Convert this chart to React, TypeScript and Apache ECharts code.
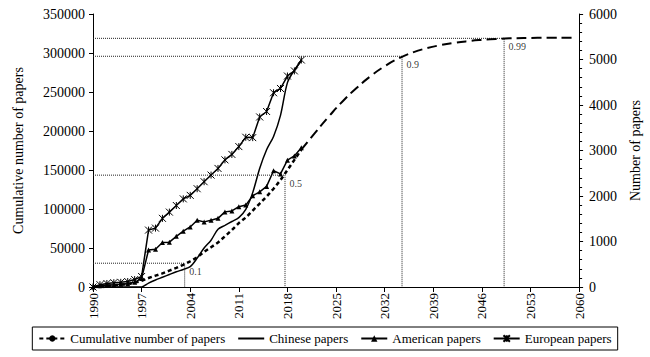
import React, { useEffect, useRef } from "react";
import * as echarts from "echarts";

const BASE_YEAR = 1990;

// Observed years (1990–2020)
const years = [
  1990, 1991, 1992, 1993, 1994, 1995, 1996, 1997, 1998, 1999, 2000, 2001, 2002, 2003, 2004, 2005,
  2006, 2007, 2008, 2009, 2010, 2011, 2012, 2013, 2014, 2015, 2016, 2017, 2018, 2019, 2020,
];

// Cumulative number of papers (left axis)
const cumulativeActual = [
  0, 800, 1500, 2200, 3000, 4000, 5500, 8000, 11500, 14500, 17500, 21000, 24500, 28500, 33000, 38000,
  45000, 51000, 57000, 65000, 73000, 82000, 89000, 98000, 107000, 116000, 126000, 137000, 150000,
  163000, 176000,
];

// Logistic forecast of the cumulative number (left axis)
const forecastYears = [
  2020, 2022, 2024, 2026, 2028, 2030, 2032, 2034, 2036, 2038, 2040, 2042, 2044, 2046, 2048, 2050, 2054, 2059,
];
const forecastValues = [
  176000, 198000, 219000, 238500, 255500, 270500, 283000, 293000, 300500, 306000, 310000, 313000,
  315200, 316800, 318000, 318800, 319400, 319700,
];

// Number of papers (right axis)
const chinesePapers = [
  0, 0, 0, 0, 0, 0, 0, 0, 86, 154, 214, 274, 334, 386, 446, 634, 857, 1029, 1269, 1354, 1440, 1526,
  1706, 2074, 2606, 3017, 3309, 3772, 4492, 4766, 4972,
];
const americanPapers = [
  0, 26, 43, 51, 60, 69, 103, 189, 814, 831, 977, 986, 1114, 1226, 1320, 1468, 1431, 1468, 1509, 1651,
  1671, 1766, 1800, 2006, 2091, 2211, 2554, 2486, 2788, 2880, 3060,
];
const europeanPapers = [
  0, 51, 77, 94, 103, 120, 163, 231, 1251, 1294, 1509, 1646, 1791, 1937, 2014, 2160, 2314, 2460, 2606,
  2794, 2914, 3086, 3291, 3283, 3737, 3857, 4269, 4363, 4637, 4749, 4989,
];

// Saturation reference levels
const refLabels = ["0.1", "0.5", "0.9", "0.99"];
const refYears = [2003.2, 2017.65, 2034.5, 2049.2];
const refValues = [30500, 143400, 295800, 318800];

const legendNames = ["Cumulative number of papers", "Chinese papers", "American papers", "European papers"];

const FONT = "Liberation Serif";
const ASTERISK = "path://M0,0L10,10M10,0L0,10M5,0L5,10";

export default function App() {
  const ref = useRef<HTMLDivElement>(null);

  useEffect(() => {
    if (!ref.current) return;
    const chart = echarts.init(ref.current, null, { renderer: "svg" });
    const toX = (y: number) => y - BASE_YEAR;
    const txt = { fontFamily: FONT, color: "#000" };

    const refSeries = refYears.map((yr, i) => ({
      type: "line",
      yAxisIndex: 0,
      silent: true,
      symbol: "none",
      z: 1,
      lineStyle: { type: "dotted", width: 1, color: "#222" },
      data: [
        [0, refValues[i]],
        [toX(yr), refValues[i]],
        [toX(yr), 0],
      ],
    }));

    const option: any = {
      animation: false,
      textStyle: { fontFamily: FONT, color: "#000" },
      grid: { left: 93, right: 68, top: 14, bottom: 70 },
      legend: {
        data: [
          { name: legendNames[0] },
          { name: legendNames[1], itemStyle: { opacity: 0 } },
          { name: legendNames[2] },
          { name: legendNames[3] },
        ],
        left: "center",
        bottom: 7,
        borderColor: "#000",
        borderWidth: 1,
        borderRadius: 0,
        padding: [5, 6],
        itemGap: 12,
        itemWidth: 26,
        itemHeight: 8,
        textStyle: { ...txt, fontSize: 13 },
      },
      xAxis: {
        type: "value",
        min: 0,
        max: 70,
        interval: 7,
        splitLine: { show: false },
        axisLine: { lineStyle: { color: "#000", width: 1 } },
        axisTick: { show: true, length: 5, lineStyle: { color: "#000" } },
        axisLabel: {
          ...txt,
          rotate: 90,
          margin: 6,
          fontSize: 13,
          formatter: (v: number) => String(v + BASE_YEAR),
        },
      },
      yAxis: [
        {
          type: "value",
          position: "left",
          min: 0,
          max: 350000,
          interval: 50000,
          splitLine: { show: false },
          axisLine: { show: true, lineStyle: { color: "#000", width: 1 } },
          axisTick: { show: true, length: 4, lineStyle: { color: "#000" } },
          axisLabel: { ...txt, margin: 8, fontSize: 14, formatter: (v: number) => String(v) },
          name: "Cumulative number of papers",
          nameLocation: "middle",
          nameRotate: 90,
          nameGap: 68,
          nameTextStyle: { ...txt, fontSize: 14 },
        },
        {
          type: "value",
          position: "right",
          min: 0,
          max: 6000,
          interval: 1000,
          splitLine: { show: false },
          axisLine: { show: true, lineStyle: { color: "#000", width: 1 } },
          axisTick: { show: true, length: 4, lineStyle: { color: "#000" } },
          minorTick: { show: true, splitNumber: 5, length: 3, lineStyle: { color: "#000" } },
          minorSplitLine: { show: false },
          axisLabel: { ...txt, margin: 10, fontSize: 14, formatter: (v: number) => String(v) },
          name: "Number of papers",
          nameLocation: "middle",
          nameRotate: 90,
          nameGap: 40,
          nameTextStyle: { ...txt, fontSize: 14 },
        },
      ],
      series: [
        ...refSeries,
        {
          name: "Cumulative number of papers",
          type: "line",
          yAxisIndex: 0,
          symbol: "none",
          z: 3,
          color: "#000",
          lineStyle: { type: [4, 3], width: 2.5, color: "#000" },
          data: years.map((y, i) => [toX(y), cumulativeActual[i]]),
        },
        {
          name: "Cumulative number of papers",
          type: "line",
          yAxisIndex: 0,
          symbol: "none",
          smooth: true,
          z: 3,
          color: "#000",
          lineStyle: { type: [10, 5], width: 2, color: "#000" },
          data: forecastYears.map((y, i) => [toX(y), forecastValues[i]]),
        },
        {
          name: "Chinese papers",
          type: "line",
          yAxisIndex: 1,
          symbol: "none",
          smooth: 0.3,
          z: 4,
          color: "#000",
          lineStyle: { width: 1.5, color: "#000" },
          data: years.map((y, i) => [toX(y), chinesePapers[i]]),
        },
        {
          name: "American papers",
          type: "line",
          yAxisIndex: 1,
          symbol: "triangle",
          symbolSize: 5,
          z: 4,
          color: "#000",
          itemStyle: { color: "#000" },
          lineStyle: { width: 1.5, color: "#000" },
          data: years.map((y, i) => [toX(y), americanPapers[i]]),
        },
        {
          name: "European papers",
          type: "line",
          yAxisIndex: 1,
          symbol: ASTERISK,
          symbolSize: 7,
          z: 4,
          color: "#000",
          itemStyle: { color: "#000", borderColor: "#000", borderWidth: 1 },
          lineStyle: { width: 1.5, color: "#000" },
          data: years.map((y, i) => [toX(y), europeanPapers[i]]),
        },
        {
          type: "scatter",
          yAxisIndex: 0,
          silent: true,
          symbolSize: 1,
          itemStyle: { color: "rgba(0,0,0,0)" },
          label: {
            show: true,
            position: [5, 4],
            fontSize: 10,
            fontFamily: FONT,
            color: "#000",
            verticalAlign: "top",
            align: "left",
          },
          data: refYears.map((yr, i) => ({
            value: [toX(yr), refValues[i]],
            label: { formatter: refLabels[i] },
          })),
        },
      ],
    };

    chart.setOption(option);
    return () => chart.dispose();
  }, []);

  return (
    <div
      ref={ref}
      style={{ position: "fixed", left: 0, top: 0, width: 650, height: 357, background: "#fff" }}
    />
  );
}
